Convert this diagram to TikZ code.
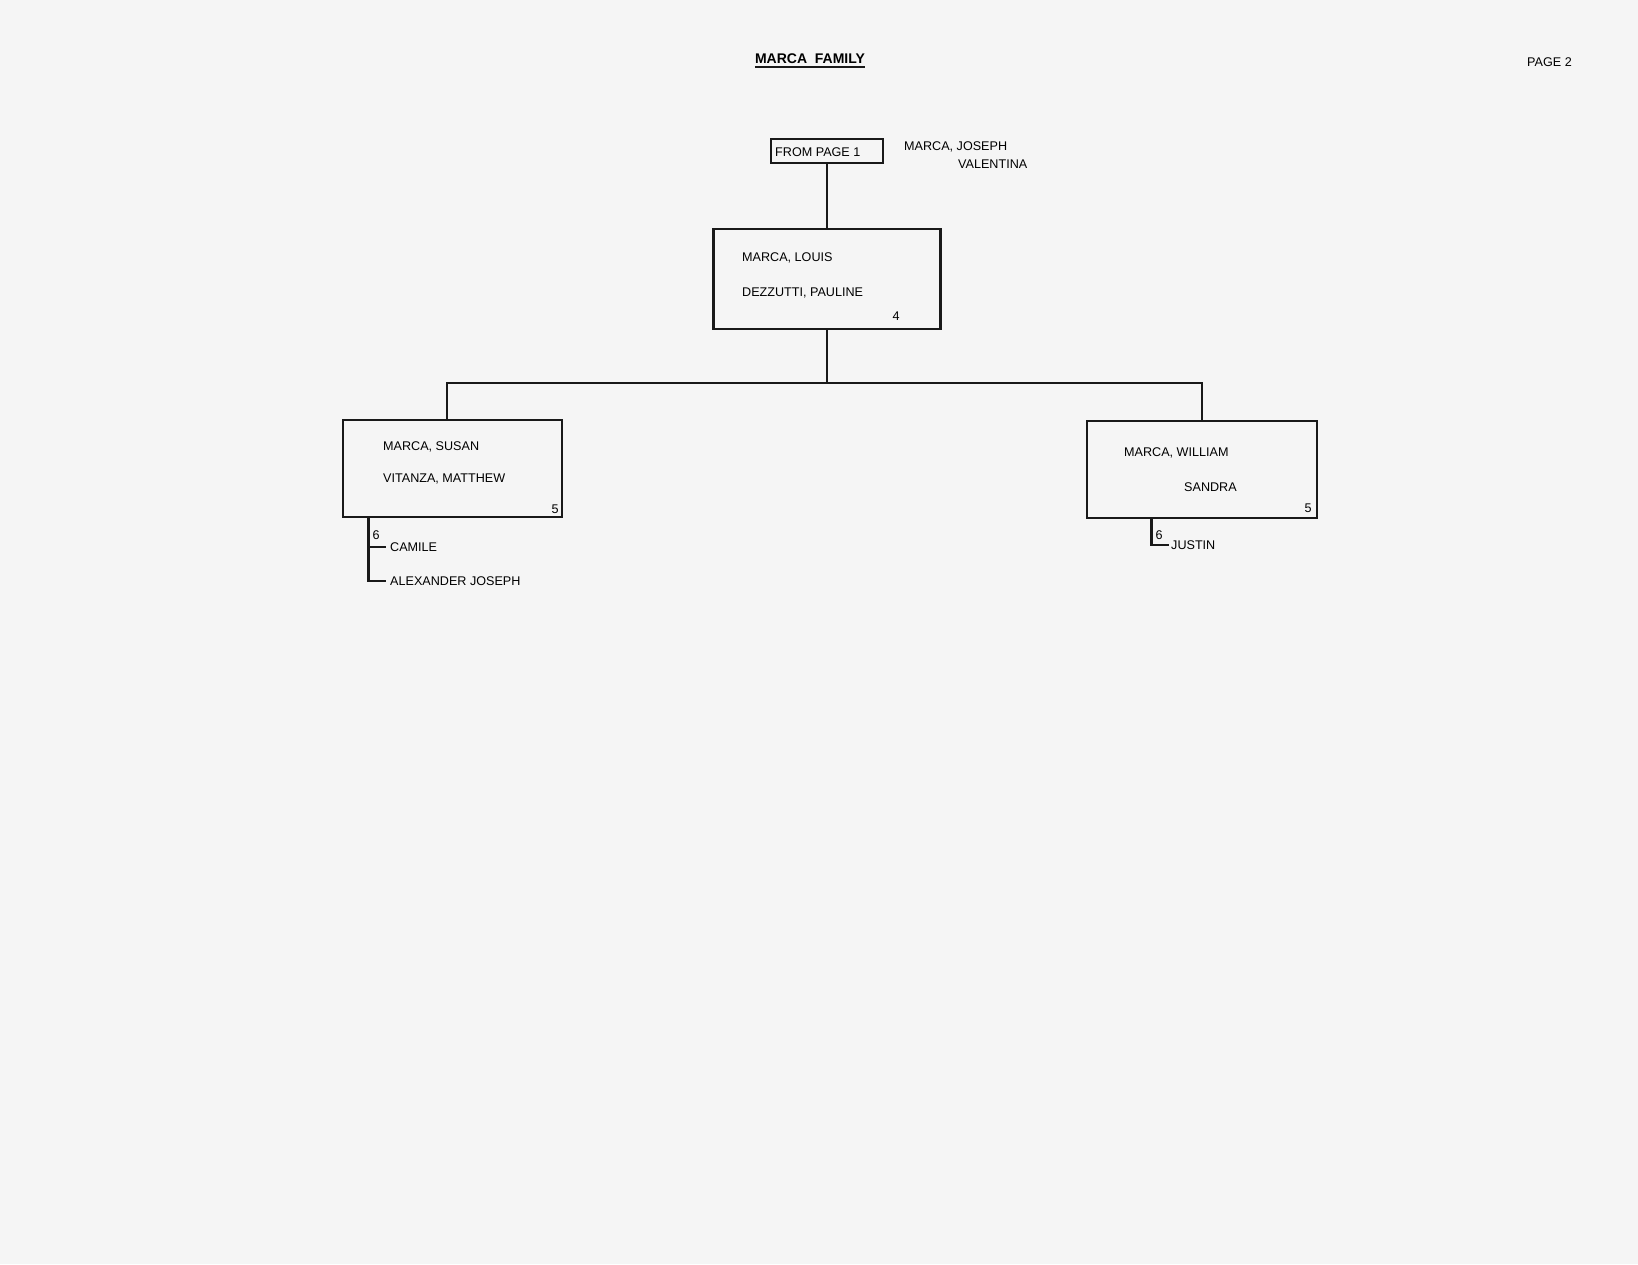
\documentclass[tikz,border=0pt]{standalone}
\usepackage{fontspec}
\setmainfont{Liberation Sans}
\begin{document}
\begin{tikzpicture}[x=1pt,y=-1pt,font=\fontsize{12.6}{14}\selectfont,
  famtext/.style={anchor=west,inner sep=0pt,text=black},
  gennum/.style={inner sep=0pt,text=black},
  fambox/.style={draw=black!90,line width=2.8pt,inner sep=0pt},
  link/.style={draw=black!90,line width=2.8pt}]
\fill[black!4] (0,0) rectangle (1638,1264);
\useasboundingbox (0,0) rectangle (1638,1264);
% heading
\node[gennum,font=\fontsize{14}{16}\selectfont\bfseries] (title) at (810,59) {MARCA\ \ FAMILY};
\draw[black!90,line width=1.8pt] ([yshift=-3pt]title.south west) -- ([yshift=-3pt]title.south east);
\node[famtext] (pagenum) at (1527,62) {PAGE 2};
% parents from page 1
\node[fambox,minimum width=112pt,minimum height=24pt] (frompage) at (827,151) {};
\node[famtext] (fromtxt) at (775,152) {FROM PAGE 1};
\node[famtext] (joseph) at (904,147) {MARCA, JOSEPH};
\node[famtext] (valentina) at (958,164) {VALENTINA};
% generation 4
\node[fambox,minimum width=227pt,minimum height=100pt] (louis) at (827,279) {};
\node[famtext] (louistxt) at (742,258) {MARCA, LOUIS};
\node[famtext] (paulinetxt) at (742,293) {DEZZUTTI, PAULINE};
\node[gennum] (gen4) at (896,316) {4};
% generation 5
\node[fambox,minimum width=219pt,minimum height=97pt] (susan) at (452.5,468.5) {};
\node[famtext] (susantxt) at (383,447) {MARCA, SUSAN};
\node[famtext] (matthewtxt) at (383,479) {VITANZA, MATTHEW};
\node[gennum] (gen5a) at (555,509) {5};
\node[fambox,minimum width=230pt,minimum height=97pt] (william) at (1202,469.5) {};
\node[famtext] (williamtxt) at (1124,453) {MARCA, WILLIAM};
\node[famtext] (sandratxt) at (1184,487) {SANDRA};
\node[gennum] (gen5b) at (1308,508) {5};
\coordinate (bar) at (827,383);
\draw[link] (frompage.south) -- (louis.north);
\draw[link] (louis.south) -- (bar);
\draw[link] ([xshift=-5.5pt]susan.north) |- (bar) -| (william.north);
% generation 6
\node[famtext] (camile) at (390,547) {CAMILE};
\node[famtext] (alexander) at (390,581) {ALEXANDER JOSEPH};
\node[gennum] (gen6a) at (376,535) {6};
\coordinate (sroot) at ([xshift=27pt]susan.south west);
\draw[link] (sroot) |- ([xshift=-4pt]alexander.west);
\draw[link] (sroot |- camile.west) -- ([xshift=-4pt]camile.west);
\node[famtext] (justin) at (1171,545) {JUSTIN};
\node[gennum] (gen6b) at (1159,535) {6};
\coordinate (wroot) at ([xshift=66pt]william.south west);
\draw[link] (wroot) |- ([xshift=-2pt]justin.west);
\end{tikzpicture}
\end{document}
